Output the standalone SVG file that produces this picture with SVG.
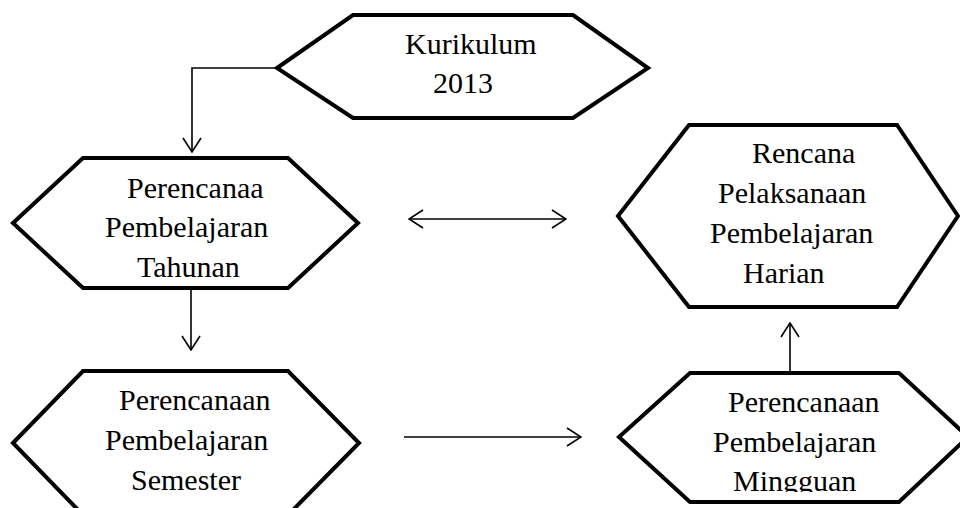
<svg xmlns="http://www.w3.org/2000/svg" width="960" height="508" viewBox="0 0 960 508">
<style>
.hex{fill:#fff;stroke:#000;stroke-width:4;stroke-linejoin:miter}
.t{font-family:"Liberation Serif","Times New Roman",serif;font-size:30px;fill:#000}
.c{fill:none;stroke:#000;stroke-width:1.6}
</style>
<defs>
<marker id="ah" viewBox="0 0 16 20" refX="15" refY="10" markerWidth="16" markerHeight="20" markerUnits="userSpaceOnUse" orient="auto-start-reverse">
<path d="M1,1 L15,10 L1,19" fill="none" stroke="#000" stroke-width="1.6"/>
</marker>
<clipPath id="clipM"><rect x="600" y="360" width="360" height="132"/></clipPath>
</defs>
<rect width="960" height="508" fill="#fff"/>
<g id="connectors">
<path class="c" d="M277,68 H192 V152" marker-end="url(#ah)"/>
<path class="c" d="M191,288 V350" marker-end="url(#ah)"/>
<path class="c" d="M409,219 H566" marker-start="url(#ah)" marker-end="url(#ah)"/>
<path class="c" d="M404,437 H581" marker-end="url(#ah)"/>
<path class="c" d="M790,373 V323" marker-end="url(#ah)"/>
</g>
<g id="kurikulum">
<polygon class="hex" points="277,68 353,15 573,15 648,68 573,118 353,118"/>
<text class="t" x="405" y="54">Kurikulum</text>
<text class="t" x="433" y="93">2013</text>
</g>
<g id="tahunan">
<polygon class="hex" points="13,223 83,158 288,158 358,223 288,288 83,288"/>
<text class="t" x="127" y="198">Perencanaa</text>
<text class="t" x="105" y="237">Pembelajaran</text>
<text class="t" x="137" y="277">Tahunan</text>
</g>
<g id="semester">
<polygon class="hex" points="13,443 83,371 288,371 359,443 288,515 83,515"/>
<text class="t" x="119" y="410">Perencanaan</text>
<text class="t" x="105" y="450">Pembelajaran</text>
<text class="t" x="131" y="490">Semester</text>
</g>
<g id="harian">
<polygon class="hex" points="618,216 689,125 897,125 958,216 897,307 689,307"/>
<text class="t" x="752" y="163">Rencana</text>
<text class="t" x="718" y="203">Pelaksanaan</text>
<text class="t" x="710" y="243">Pembelajaran</text>
<text class="t" x="743" y="283">Harian</text>
</g>
<g id="mingguan">
<polygon class="hex" points="619,437 690,373 899,373 968,437 899,502 690,502"/>
<text class="t" x="728" y="412">Perencanaan</text>
<text class="t" x="713" y="452">Pembelajaran</text>
<text class="t" x="733" y="491" clip-path="url(#clipM)">Mingguan</text>
</g>
</svg>
